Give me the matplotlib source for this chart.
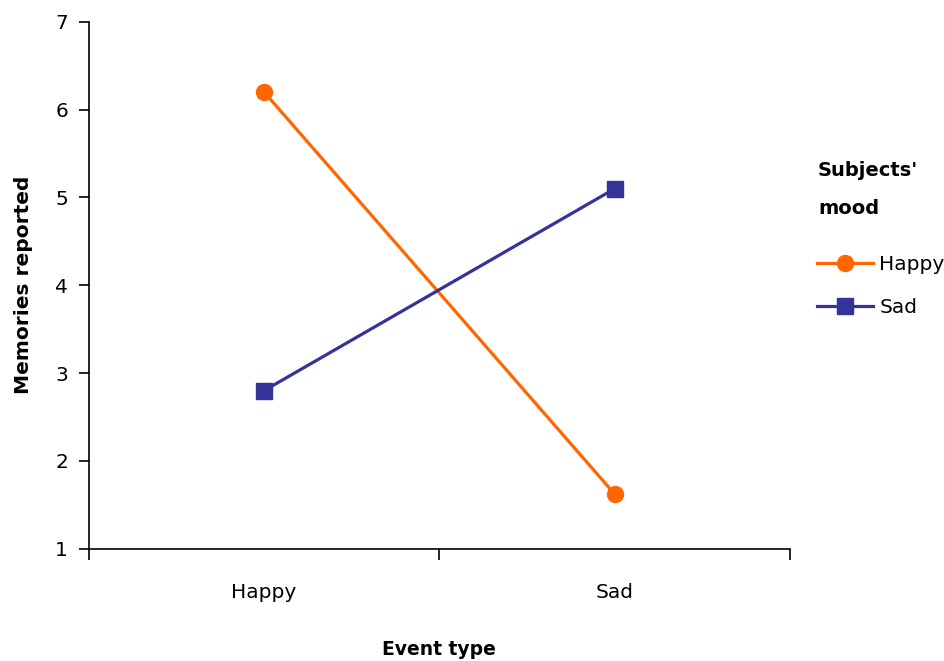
import matplotlib.pyplot as plt

plt.rcParams['font.family'] = 'DejaVu Sans'

# data
event_types = ['Happy', 'Sad']
happy_mood = [6.2, 1.62]
sad_mood = [2.8, 5.1]

ORANGE = '#FF6600'
NAVY = '#333399'

fig = plt.figure(figsize=(9.44, 6.61), dpi=100)
ax = fig.add_axes([0.094, 0.170, 0.743, 0.797])

xpos = [i + 0.5 for i in range(len(event_types))]
ax.plot(xpos, happy_mood, color=ORANGE, linewidth=2.3, marker='o',
        markersize=11.5, label='Happy')
ax.plot(xpos, sad_mood, color=NAVY, linewidth=2.3, marker='s',
        markersize=12, label='Sad')

ax.set_xlim(0, len(event_types))
ax.set_ylim(1, 7)
ax.set_yticks(range(1, 8))

# category boundaries get the tick marks, names sit between them
ax.set_xticks(range(len(event_types) + 1))
ax.set_xticklabels([])
ax.set_xticks(xpos, minor=True)
ax.set_xticklabels(event_types, minor=True)
ax.tick_params(axis='x', which='major', length=8, width=1.2)
ax.tick_params(axis='x', which='minor', length=0, pad=25, labelsize=14.5)
ax.tick_params(axis='y', length=7, width=1.2, pad=8, labelsize=14.5)

for side in ['top', 'right']:
    ax.spines[side].set_visible(False)
for side in ['left', 'bottom']:
    ax.spines[side].set_linewidth(1.2)

ax.set_xlabel('Event type', fontsize=13.5, fontweight='bold', labelpad=27)
ax.set_ylabel('Memories reported', fontsize=14.5, fontweight='bold', labelpad=16)

# legend title drawn as two lines of text above the entries
fig.text(818 / 944, 1 - 170 / 661, "Subjects'", fontsize=14, fontweight='bold', va='center')
fig.text(818 / 944, 1 - 208 / 661, "mood", fontsize=14, fontweight='bold', va='center')
ax.legend(loc='upper left', bbox_to_anchor=(817 / 944, 1 - 255 / 661),
          bbox_transform=fig.transFigure, frameon=False, fontsize=14.5,
          handlelength=2.8, handletextpad=0.3, labelspacing=1.2,
          borderpad=0, borderaxespad=0)

plt.savefig('out.png', dpi=100)
plt.close()
